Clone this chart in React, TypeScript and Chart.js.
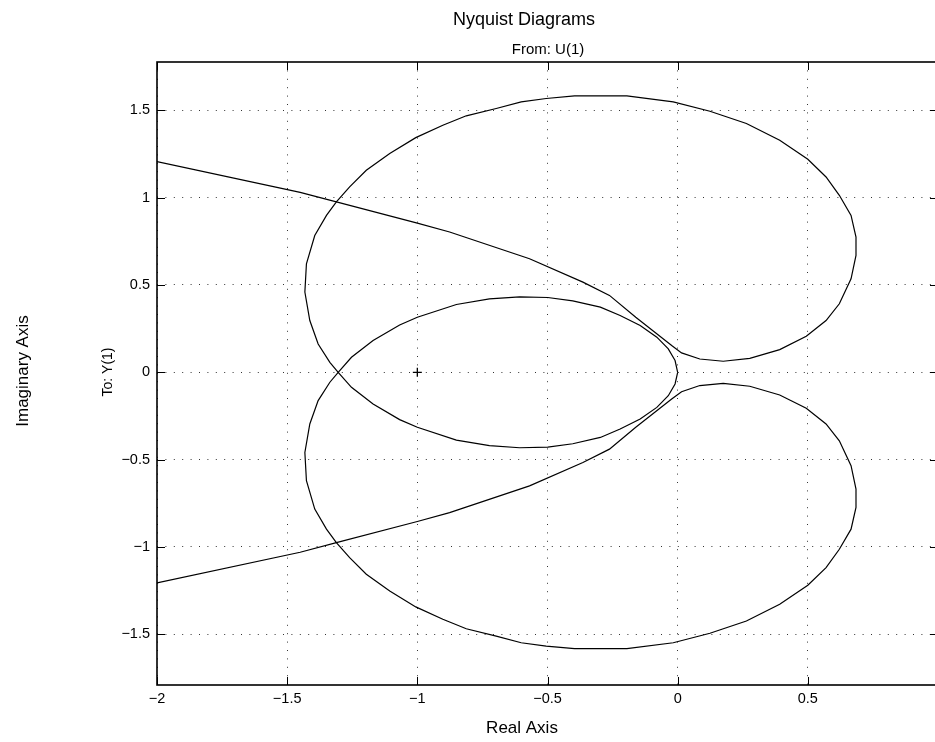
import React, { useEffect, useRef } from "react";
import { Chart, registerables } from "chart.js";

Chart.register(...registerables);

// ---- axis setup ----
const X_RANGE = [-2, 1];
const Y_RANGE = [-1.79, 1.776];
const X_TICKS = [-2, -1.5, -1, -0.5, 0, 0.5, 1];
const X_TICK_LABELS = ["−2", "−1.5", "−1", "−0.5", "0", "0.5", ""];
const Y_TICKS = [-1.5, -1, -0.5, 0, 0.5, 1, 1.5];
const Y_TICK_LABELS = ["−1.5", "−1", "−0.5", "0", "0.5", "1", "1.5"];

// ---- texts ----
const TITLE = "Nyquist Diagrams";
const SUBTITLE = "From: U(1)";
const X_LABEL = "Real Axis";
const Y_LABEL = "Imaginary Axis";
const Y_SUBLABEL = "To: Y(1)";

// ---- Nyquist curve (real part is shared by +w and -w branches) ----
const NYQ_RE = [
  -2, -1.45, -1.311, -1, -0.876, -0.569, -0.364, -0.262, -0.161, -0.023,
  0.015, 0.085, 0.175, 0.277, 0.392, 0.494, 0.57, 0.621, 0.666, 0.685,
  0.685, 0.666, 0.621, 0.57, 0.5, 0.392, 0.264, 0.124, -0.017, -0.195,
  -0.297, -0.396, -0.505, -0.601, -0.697, -0.812, -0.902, -1.006, -1.106, -1.196,
  -1.26, -1.311, -1.349, -1.394, -1.426, -1.432, -1.413, -1.381, -1.336, -1.304,
  -1.253, -1.17, -1.068, -1, -0.85, -0.723, -0.607, -0.499, -0.403, -0.297,
  -0.221, -0.144, -0.08, -0.036, -0.01, 0,
];
const POS_IM = [
  1.206, 1.03, 0.975, 0.854, 0.803, 0.65, 0.516, 0.44, 0.315, 0.153,
  0.111, 0.076, 0.063, 0.08, 0.13, 0.206, 0.296, 0.392, 0.535, 0.669,
  0.774, 0.898, 1.013, 1.118, 1.219, 1.328, 1.424, 1.494, 1.548, 1.582,
  1.582, 1.582, 1.567, 1.548, 1.51, 1.468, 1.414, 1.343, 1.252, 1.156,
  1.061, 0.975, 0.898, 0.783, 0.621, 0.459, 0.296, 0.162, 0.057, 0,
  -0.086, -0.182, -0.271, -0.315, -0.388, -0.42, -0.432, -0.428, -0.409, -0.373,
  -0.325, -0.268, -0.201, -0.134, -0.067, 0,
];
const NEG_IM = [
  -1.206, -1.03, -0.975, -0.854, -0.803, -0.65, -0.516, -0.44, -0.315, -0.153,
  -0.111, -0.076, -0.063, -0.08, -0.13, -0.206, -0.296, -0.392, -0.535, -0.669,
  -0.774, -0.898, -1.013, -1.118, -1.219, -1.328, -1.424, -1.494, -1.548, -1.582,
  -1.582, -1.582, -1.567, -1.548, -1.51, -1.468, -1.414, -1.343, -1.252, -1.156,
  -1.061, -0.975, -0.898, -0.783, -0.621, -0.459, -0.296, -0.162, -0.057, 0,
  0.086, 0.182, 0.271, 0.315, 0.388, 0.42, 0.432, 0.428, 0.409, 0.373,
  0.325, 0.268, 0.201, 0.134, 0.067, 0,
];
const CRITICAL_RE = [-1];
const CRITICAL_IM = [0];

const FONT = "'Liberation Sans', Arial, Helvetica, sans-serif";

const overlayPlugin = {
  id: "overlay",
  afterDatasetsDraw(chart: any) {
    const { ctx, chartArea: a, scales } = chart;
    const TL = 8;
    ctx.save();
    ctx.strokeStyle = "#000";
    ctx.lineWidth = 1;
    ctx.beginPath();
    for (const v of X_TICKS) {
      const px = Math.round(scales.x.getPixelForValue(v)) + 0.5;
      ctx.moveTo(px, a.bottom);
      ctx.lineTo(px, a.bottom - TL);
      ctx.moveTo(px, a.top);
      ctx.lineTo(px, a.top + TL);
    }
    for (const v of Y_TICKS) {
      const py = Math.round(scales.y.getPixelForValue(v)) + 0.5;
      ctx.moveTo(a.left, py);
      ctx.lineTo(a.left + TL, py);
      ctx.moveTo(a.right, py);
      ctx.lineTo(a.right - TL, py);
    }
    ctx.stroke();
    ctx.lineWidth = 1.6;
    ctx.strokeRect(a.left, a.top, a.right - a.left, a.bottom - a.top);
    ctx.restore();
  },
  afterDraw(chart: any) {
    const { ctx } = chart;
    ctx.save();
    ctx.fillStyle = "#000";
    ctx.textAlign = "center";
    ctx.textBaseline = "alphabetic";
    ctx.font = `18px ${FONT}`;
    ctx.fillText(TITLE, 524, 25);
    ctx.font = `15px ${FONT}`;
    ctx.fillText(SUBTITLE, 548, 54);
    ctx.font = `17px ${FONT}`;
    ctx.fillText(X_LABEL, 522, 733);
    ctx.save();
    ctx.translate(27.5, 371);
    ctx.rotate(-Math.PI / 2);
    ctx.font = `17px ${FONT}`;
    ctx.fillText(Y_LABEL, 0, 0);
    ctx.restore();
    ctx.save();
    ctx.translate(112, 372);
    ctx.rotate(-Math.PI / 2);
    ctx.font = `14px ${FONT}`;
    ctx.fillText(Y_SUBLABEL, 0, 0);
    ctx.restore();
    ctx.restore();
  },
};

export default function App() {
  const ref = useRef<HTMLCanvasElement | null>(null);

  useEffect(() => {
    if (!ref.current) return;
    const lineStyle = {
      showLine: true,
      borderColor: "#000",
      borderWidth: 1.2,
      pointRadius: 0,
      tension: 0,
      fill: false,
    };
    const chart = new Chart(ref.current, {
      type: "scatter",
      data: {
        datasets: [
          { ...lineStyle, data: NYQ_RE.map((x, i) => ({ x, y: POS_IM[i] })) },
          { ...lineStyle, data: NYQ_RE.map((x, i) => ({ x, y: NEG_IM[i] })) },
          {
            data: CRITICAL_RE.map((x, i) => ({ x, y: CRITICAL_IM[i] })),
            showLine: false,
            pointStyle: "cross",
            pointRadius: 4.5,
            borderColor: "#000",
            borderWidth: 1.3,
          },
        ],
      },
      options: {
        responsive: false,
        animation: false,
        devicePixelRatio: 1,
        layout: { padding: { top: 62, right: 12, bottom: 0, left: 0 } },
        plugins: { legend: { display: false }, tooltip: { enabled: false } },
        scales: {
          x: {
            type: "linear",
            min: X_RANGE[0],
            max: X_RANGE[1],
            bounds: "data",
            afterBuildTicks: (s: any) => {
              s.ticks = X_TICKS.map((v) => ({ value: v }));
            },
            afterFit: (s: any) => {
              s.height = 57;
            },
            ticks: {
              autoSkip: false,
              maxRotation: 0,
              color: "#000",
              padding: 5,
              font: { family: FONT, size: 14.5 },
              callback: (v: any) => X_TICK_LABELS[X_TICKS.indexOf(Number(v))] ?? "",
            },
            grid: { color: "rgba(0,0,0,0.8)", lineWidth: 1, drawTicks: false },
            border: { display: false, dash: [1, 7.4] },
          },
          y: {
            type: "linear",
            min: Y_RANGE[0],
            max: Y_RANGE[1],
            bounds: "data",
            afterBuildTicks: (s: any) => {
              s.ticks = Y_TICKS.map((v) => ({ value: v }));
            },
            afterFit: (s: any) => {
              s.width = 157;
            },
            ticks: {
              autoSkip: false,
              color: "#000",
              padding: 7,
              font: { family: FONT, size: 14.5 },
              callback: (v: any) => Y_TICK_LABELS[Y_TICKS.indexOf(Number(v))] ?? "",
            },
            grid: { color: "rgba(0,0,0,0.8)", lineWidth: 1, drawTicks: false },
            border: { display: false, dash: [1, 7.4] },
          },
        },
      },
      plugins: [overlayPlugin],
    } as any);
    return () => chart.destroy();
  }, []);

  return (
    <div
      style={{
        position: "fixed",
        left: 0,
        top: 0,
        width: 935,
        height: 742,
        overflow: "hidden",
        background: "#fff",
      }}
    >
      <canvas ref={ref} width={950} height={742} style={{ display: "block", width: 950, height: 742 }} />
    </div>
  );
}
